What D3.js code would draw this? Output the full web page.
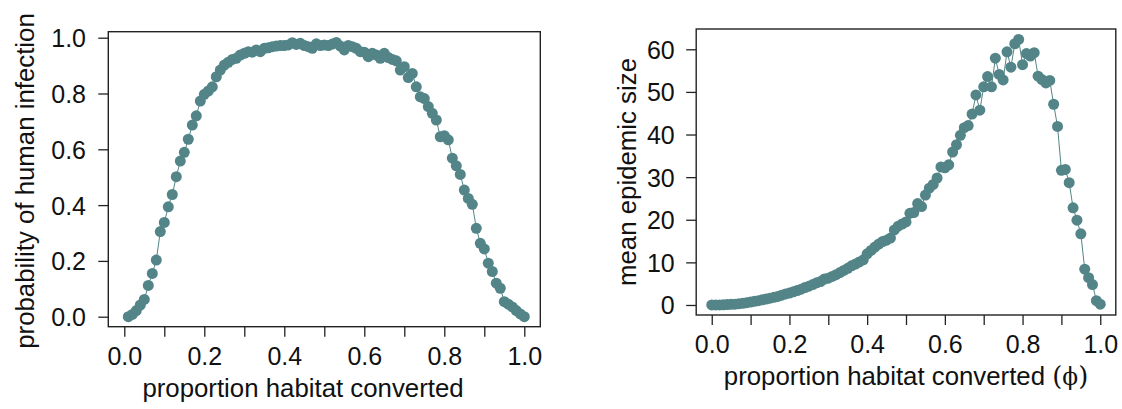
<!DOCTYPE html>
<html>
<head>
<meta charset="utf-8">
<script src="https://cdn.jsdelivr.net/npm/d3@7"></script>
<style>
  html, body { margin: 0; padding: 0; background: #fff; }
  svg { display: block; }
  text { font-family: "Liberation Sans", Arial, Helvetica, sans-serif; fill: #111; }
</style>
</head>
<body>
<svg id="chart" width="1122" height="409"></svg>
<script>
// ---------- data ----------
const leftPhi = [0.01,0.02,0.03,0.04,0.05,0.06,0.07,0.08,0.09,0.10,
  0.11,0.12,0.13,0.14,0.15,0.16,0.17,0.18,0.19,0.20,
  0.21,0.22,0.23,0.24,0.25,0.26,0.27,0.28,0.29,0.30,
  0.31,0.32,0.33,0.34,0.35,0.36,0.37,0.38,0.39,0.40,
  0.41,0.42,0.43,0.44,0.45,0.46,0.47,0.48,0.49,0.50,
  0.51,0.52,0.53,0.54,0.55,0.56,0.57,0.58,0.59,0.60,
  0.61,0.62,0.63,0.64,0.65,0.66,0.67,0.68,0.69,0.70,
  0.71,0.72,0.73,0.74,0.75,0.76,0.77,0.78,0.79,0.80,
  0.81,0.82,0.83,0.84,0.85,0.86,0.87,0.88,0.89,0.90,
  0.91,0.92,0.93,0.94,0.95,0.96,0.97,0.98,0.99,1.00];
const probInfection = [0.000,0.008,0.022,0.042,0.062,0.112,0.155,0.203,0.305,0.338,
  0.394,0.438,0.502,0.558,0.589,0.636,0.687,0.720,0.773,0.797,
  0.809,0.824,0.860,0.884,0.902,0.912,0.922,0.926,0.938,0.944,
  0.950,0.948,0.956,0.950,0.962,0.964,0.968,0.970,0.972,0.972,
  0.974,0.982,0.976,0.980,0.972,0.968,0.962,0.978,0.972,0.974,
  0.972,0.977,0.983,0.970,0.956,0.972,0.968,0.962,0.950,0.948,
  0.932,0.944,0.938,0.926,0.944,0.929,0.922,0.917,0.884,0.896,
  0.857,0.872,0.824,0.788,0.782,0.753,0.729,0.705,0.645,0.649,
  0.634,0.568,0.541,0.510,0.454,0.424,0.403,0.317,0.263,0.243,
  0.192,0.162,0.120,0.102,0.054,0.045,0.035,0.022,0.010,0.000];

const rightPhi = [0.00,0.01,0.02,0.03,0.04,0.05,0.06,0.07,0.08,0.09,0.10,
  0.11,0.12,0.13,0.14,0.15,0.16,0.17,0.18,0.19,0.20,
  0.21,0.22,0.23,0.24,0.25,0.26,0.27,0.28,0.29,0.30,
  0.31,0.32,0.33,0.34,0.35,0.36,0.37,0.38,0.39,0.40,
  0.41,0.42,0.43,0.44,0.45,0.46,0.47,0.48,0.49,0.50,
  0.51,0.52,0.53,0.54,0.55,0.56,0.57,0.58,0.59,0.60,
  0.61,0.62,0.63,0.64,0.65,0.66,0.67,0.68,0.69,0.70,
  0.71,0.72,0.73,0.74,0.75,0.76,0.77,0.78,0.79,0.80,
  0.81,0.82,0.83,0.84,0.85,0.86,0.87,0.88,0.89,0.90,
  0.91,0.92,0.93,0.94,0.95,0.96,0.97,0.98,0.99,1.00];
const epidemicSize = [0.0,0.0,0.0,0.05,0.1,0.15,0.2,0.3,0.4,0.55,0.7,
  0.85,1.0,1.2,1.4,1.6,1.8,2.0,2.3,2.6,2.8,
  3.1,3.4,3.7,4.1,4.4,4.8,5.2,5.5,6.1,6.3,
  6.7,7.1,7.6,8.1,8.6,9.2,9.6,10.1,10.6,12.0,
  12.8,13.6,14.3,14.9,15.2,15.7,17.6,18.5,19.0,19.5,
  21.5,21.7,23.8,23.1,25.8,27.4,28.3,29.8,32.4,32.2,
  32.9,35.9,37.6,39.8,41.6,42.1,44.8,49.3,45.7,51.2,
  53.6,51.2,57.9,54.1,52.8,59.4,55.8,61.3,62.3,56.4,
  59.0,58.4,59.2,53.7,52.9,52.1,52.7,47.1,41.9,31.6,
  31.8,28.7,22.8,19.9,16.7,8.4,6.4,4.8,1.0,0.2];

const xTickValues = [0,0.1,0.2,0.3,0.4,0.5,0.6,0.7,0.8,0.9,1.0];
const xTickLabels = ["0.0","","0.2","","0.4","","0.6","","0.8","","1.0"];
const leftYTickValues = [0,0.2,0.4,0.6,0.8,1.0];
const leftYTickLabels = ["0.0","0.2","0.4","0.6","0.8","1.0"];
const rightYTickValues = [0,10,20,30,40,50,60];
const rightYTickLabels = ["0","10","20","30","40","50","60"];

const leftXTitle = "proportion habitat converted";
const leftYTitle = "probability of human infection";
const rightXTitle = "proportion habitat converted ";
const rightYTitle = "mean epidemic size";

// ---------- style ----------
const pointColor = "#538588";
const FS = 25;
const TFS = 25.8;

const svg = d3.select("#chart");

function panel(cfg) {
  const g = svg.append("g");
  const x = d3.scaleLinear().domain([-0.04, 1.04]).range([cfg.left, cfg.right]);
  const y = d3.scaleLinear().domain(cfg.yDomain).range([cfg.bottom, cfg.top]);

  // x axis
  const xAxis = d3.axisBottom(x).tickValues(xTickValues).tickSize(10)
    .tickFormat((d, i) => xTickLabels[i]);
  const gx = g.append("g").attr("transform", `translate(0,${cfg.bottom})`).call(xAxis);
  gx.select(".domain").remove();
  gx.selectAll(".tick line").attr("stroke", "#222").attr("stroke-width", 1.3);
  gx.selectAll(".tick text").attr("y", cfg.xLabelOffset).attr("dy", 0)
    .attr("font-size", FS).attr("fill", "#111")
    .attr("font-family", '"Liberation Sans", Arial, sans-serif');

  // y axis
  const yAxis = d3.axisLeft(y).tickValues(cfg.yTicks).tickSize(10)
    .tickFormat((d, i) => cfg.yLabels[i]);
  const gy = g.append("g").attr("transform", `translate(${cfg.left},0)`).call(yAxis);
  gy.select(".domain").remove();
  gy.selectAll(".tick line").attr("stroke", "#222").attr("stroke-width", 1.3);
  gy.selectAll(".tick text").attr("x", -cfg.yLabelOffset).attr("dy", "0.36em")
    .attr("font-size", FS).attr("fill", "#111")
    .attr("font-family", '"Liberation Sans", Arial, sans-serif');

  // box
  g.append("rect").attr("x", cfg.left).attr("y", cfg.top)
    .attr("width", cfg.right - cfg.left).attr("height", cfg.bottom - cfg.top)
    .attr("fill", "none").attr("stroke", "#222").attr("stroke-width", 1.4);

  // data
  const pts = cfg.xs.map((v, i) => [v, cfg.ys[i]]);
  g.append("path").datum(pts)
    .attr("d", d3.line().x(d => x(d[0])).y(d => y(d[1])))
    .attr("fill", "none").attr("stroke", pointColor).attr("stroke-width", 1);
  g.append("g").selectAll("circle").data(pts).join("circle")
    .attr("cx", d => x(d[0])).attr("cy", d => y(d[1])).attr("r", 5.5)
    .attr("fill", pointColor);

  // titles
  const xt = g.append("text").attr("x", cfg.xTitleX)
    .attr("y", cfg.bottom + cfg.xTitleOffset).attr("text-anchor", "middle")
    .attr("font-size", TFS).text(cfg.xTitle);
  if (cfg.phi) {
    xt.append("tspan").attr("font-family", '"DejaVu Serif", "Liberation Serif", serif').text("(");
    xt.append("tspan").attr("font-family", '"DejaVu Serif", "Liberation Serif", serif').attr("font-size", TFS * 0.9).text("\u03D5");
    xt.append("tspan").attr("font-family", '"DejaVu Serif", "Liberation Serif", serif').text(")");
  }
  g.append("text")
    .attr("transform", `translate(${cfg.yTitleX},${cfg.yTitleY}) rotate(-90)`)
    .attr("text-anchor", "middle").attr("font-size", TFS).text(cfg.yTitle);
}

panel({
  left: 108.3, right: 540.3, top: 31.7, bottom: 326.7,
  yDomain: [-0.0358, 1.0215],
  xs: leftPhi, ys: probInfection,
  yTicks: leftYTickValues, yLabels: leftYTickLabels,
  xLabelOffset: 38.3, yLabelOffset: 22.3, xTitleOffset: 70,
  xTitleX: 303, yTitleX: 33.5, yTitleY: 181,
  xTitle: leftXTitle, yTitle: leftYTitle, phi: false
});

panel({
  left: 696.2, right: 1115.8, top: 29, bottom: 315,
  yDomain: [-2.35, 64.76],
  xs: rightPhi, ys: epidemicSize,
  yTicks: rightYTickValues, yLabels: rightYTickLabels,
  xLabelOffset: 38.3, yLabelOffset: 21.5, xTitleOffset: 70,
  xTitleX: 906, yTitleX: 635.5, yTitleY: 172,
  xTitle: rightXTitle, yTitle: rightYTitle, phi: true
});
</script>
</body>
</html>
